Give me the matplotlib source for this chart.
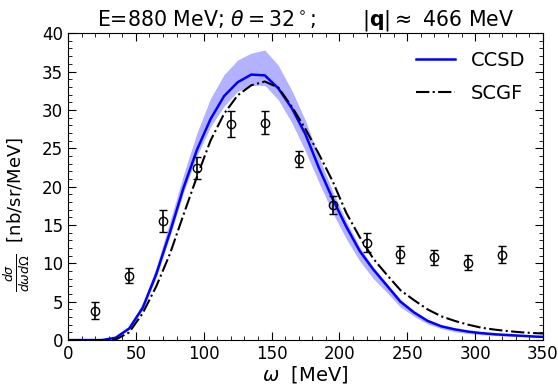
import matplotlib
matplotlib.use("Agg")
import matplotlib.pyplot as plt
import numpy as np

# theory curves (omega in MeV)
omega = [0, 5, 15, 25, 35, 45, 55, 65, 75, 85, 95, 105, 115, 125, 135, 145, 155, 165,
         175, 185, 195, 205, 215, 225, 235, 245, 255, 265, 275, 285, 295, 305, 315,
         325, 335, 345, 350]
ccsd = [0, 0, 0, 0, 0.3, 1.5, 4.2, 8.6, 14.0, 19.8, 24.8, 28.8, 31.8, 33.6, 34.6, 34.5,
        32.8, 30.2, 26.8, 22.4, 18.4, 14.8, 11.6, 9.2, 7.1, 5.0, 3.6, 2.5, 1.8, 1.4,
        1.1, 0.9, 0.75, 0.65, 0.55, 0.45, 0.42]
ccsd_lo = [0, 0, 0, 0, 0.25, 1.4, 4.0, 8.2, 13.5, 19.2, 24.0, 27.8, 30.5, 32.4, 33.2,
           33.2, 31.3, 28.3, 24.6, 20.5, 16.6, 13.2, 10.3, 8.0, 6.2, 4.3, 3.1, 2.1, 1.5,
           1.1, 0.85, 0.7, 0.6, 0.5, 0.45, 0.38, 0.35]
ccsd_hi = [0, 0, 0, 0, 0.4, 1.8, 4.8, 9.5, 15.4, 21.5, 27.0, 31.5, 34.6, 36.5, 37.4,
           37.8, 35.8, 32.5, 28.6, 23.8, 19.4, 15.5, 12.1, 9.5, 7.4, 5.3, 3.8, 2.7,
           1.95, 1.5, 1.15, 0.95, 0.8, 0.7, 0.6, 0.5, 0.45]
scgf = [0, 0, 0, 0, 0.05, 1.0, 3.5, 7.0, 11.2, 16.3, 21.3, 26.0, 29.5, 31.9, 33.2, 33.7,
        32.9, 30.4, 27.5, 24.2, 20.7, 16.6, 13.4, 10.6, 8.5, 6.5, 5.2, 4.0, 3.1, 2.5,
        2.0, 1.6, 1.35, 1.15, 1.0, 0.9, 0.85]

# experimental data
omega_exp = [20, 45, 70, 95, 120, 145, 170, 195, 220, 245, 270, 295, 320]
xs_exp = [3.8, 8.4, 15.5, 22.4, 28.2, 28.3, 23.6, 17.6, 12.7, 11.2, 10.8, 10.1, 11.1]
err_exp = [1.1, 1.0, 1.4, 1.4, 1.7, 1.5, 1.1, 1.2, 1.2, 1.1, 1.0, 1.0, 1.1]

fig = plt.figure(figsize=(5.58, 3.9), dpi=100)
ax = fig.add_axes([0.122, 0.128, 0.851, 0.787])

ax.fill_between(omega, ccsd_lo, ccsd_hi, color='blue', alpha=0.3, lw=0)
ax.plot(omega, ccsd, color='blue', lw=1.8, label='CCSD')
ax.plot(omega, scgf, color='black', lw=1.5, ls='-.', label='SCGF')
ax.errorbar(omega_exp, xs_exp, yerr=err_exp, fmt='o', mfc='none', mec='black',
            ecolor='black', ms=6, capsize=3, elinewidth=1.2, mew=1.0)

ax.set_xlim(0, 350)
ax.set_ylim(0, 40)
ax.set_xticks(np.arange(0, 351, 50))
ax.set_xticks(np.arange(0, 351, 10), minor=True)
ax.set_yticks(np.arange(0, 41, 5))
ax.set_yticks(np.arange(0, 41, 1), minor=True)
ax.tick_params(which='both', direction='in', top=True, right=True, labelsize=12)
ax.tick_params(which='major', length=6)
ax.tick_params(which='minor', length=3)

ax.set_xlabel(r'$\omega$  [MeV]', fontsize=14, labelpad=1)
ax.set_ylabel(r'$\frac{d\sigma}{d\omega d\Omega}$  [nb/sr/MeV]', fontsize=13)
ax.yaxis.set_label_coords(-0.075, 0.41)
ax.set_title(r'E=880 MeV; $\theta=32^\circ$;       $|\mathbf{q}|\approx$ 466 MeV',
             fontsize=14.8, pad=5)
ax.legend(loc='upper right', frameon=False, fontsize=14, handlelength=2.0,
          labelspacing=0.75)

fig.savefig('out.png', dpi=100)
